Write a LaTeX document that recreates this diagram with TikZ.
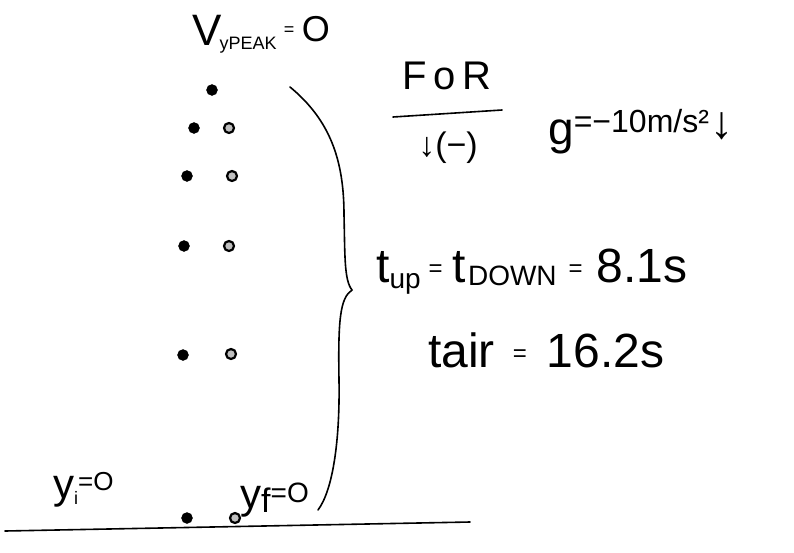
\documentclass[tikz,border=0pt]{standalone}
\usepackage{fontspec}
\setmainfont{Liberation Sans}
\begin{document}
\begin{tikzpicture}[x=1pt,y=-1pt,
  ink/.style={line width=1.6pt,black,line cap=round},
  fdot/.style={circle,fill=black,draw=black,inner sep=0pt,minimum size=11pt},
  odot/.style={circle,fill=gray!50,draw=black,line width=2.2pt,inner sep=0pt,minimum size=10pt},
  lbl/.style={inner sep=0pt,font=\fontsize{40}{40}\selectfont}
]
\useasboundingbox (0,0) rectangle (794,552);
% dots
\node[fdot] (p) at (212,90) {};
\node[fdot] (l1) at (194,128) {};
\node[odot] (r1) at (229,128) {};
\node[fdot] (l2) at (187,176) {};
\node[odot] (r2) at (232,176) {};
\node[fdot] (l3) at (184,246) {};
\node[odot] (r3) at (229,246) {};
\node[fdot] (l4) at (183,355) {};
\node[odot] (r4) at (231,354) {};
\node[fdot] (l5) at (187,518) {};
\node[odot] (r5) at (235,518) {};
% ground
\coordinate (g0) at (5,531);
\coordinate (g1) at (470,522);
\draw[ink] (g0) -- (g1);
% brace
\coordinate (b0) at (290,87);
\coordinate (bt) at (352,290);
\coordinate (b1) at (318,510);
\draw[ink] (b0) .. controls (330,120) and (344,160) .. (344,215)
  .. controls (345,255) and (344,280) .. (bt)
  .. controls (340,298) and (338,320) .. (339,380)
  .. controls (340,440) and (333,490) .. (b1);
% labels
\node[lbl,anchor=west,font=\fontsize{44}{44}\selectfont] (vpk) at (192,34) {V\hspace{-2pt}\raisebox{-4pt}{\fontsize{18}{18}\selectfont yPEAK}\,\raisebox{10pt}{\fontsize{18}{18}\selectfont =}\,\raisebox{4pt}{\fontsize{36}{36}\selectfont O}};
\node[lbl] (for) at (447,76) {F\,o\,R};
\coordinate (f0) at (393,117);
\coordinate (f1) at (502,110);
\draw[ink] (f0) -- (f1);
\node[lbl,font=\fontsize{34}{34}\selectfont] (dn) at (448,148) {↓(−)};
\node[lbl,anchor=west,font=\fontsize{46}{46}\selectfont] (gg) at (548,132) {g\raisebox{12pt}{\fontsize{32}{32}\selectfont =−10m/s²}\hspace{2pt}\raisebox{6pt}{\fontsize{46}{46}\selectfont ↓}};
\node[lbl,anchor=west,font=\fontsize{48}{48}\selectfont] (tup) at (376,272) {t\raisebox{-6pt}{\fontsize{28}{28}\selectfont up}\hspace{8pt}\raisebox{6pt}{\fontsize{24}{24}\selectfont =}\hspace{10pt}t\hspace{2pt}\raisebox{-3pt}{\fontsize{28}{28}\selectfont DOWN}\hspace{12pt}\raisebox{6pt}{\fontsize{24}{24}\selectfont =}\hspace{14pt}8.1s};
\node[lbl,anchor=west,font=\fontsize{48}{48}\selectfont] (tair) at (428,350) {tair\hspace{18pt}\raisebox{6pt}{\fontsize{24}{24}\selectfont =}\hspace{20pt}16.2s};
\node[lbl,anchor=west,font=\fontsize{42}{42}\selectfont] (yi) at (53,490) {y\raisebox{-6pt}{\fontsize{18}{18}\selectfont i}\raisebox{8pt}{\fontsize{26}{26}\selectfont =O}};
\node[lbl,anchor=west,font=\fontsize{42}{42}\selectfont] (yf) at (240,500) {y\raisebox{-4pt}{\fontsize{34}{34}\selectfont f}\raisebox{6pt}{\fontsize{28}{28}\selectfont =O}};
\end{tikzpicture}
\end{document}
